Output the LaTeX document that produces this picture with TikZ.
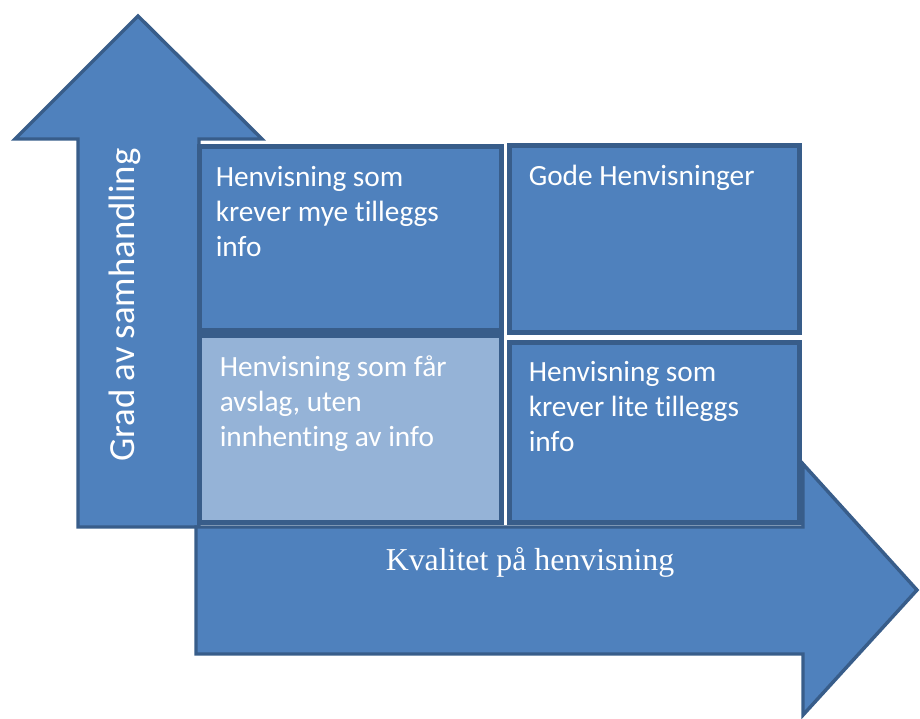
\documentclass[tikz,border=0pt]{standalone}
\usepackage{fontspec}
\setmainfont{Carlito}[Ligatures={CommonOff}]
\newfontfamily\timesfont{Liberation Serif}
\usetikzlibrary{fit}
\definecolor{quadfill}{HTML}{4F81BD}
\definecolor{quadline}{HTML}{385D8A}
\definecolor{quadlight}{HTML}{95B3D7}
\begin{document}
\begin{tikzpicture}[x=0.75pt,y=-0.75pt,quad/.style={rectangle, draw=quadline, fill=quadfill, line width=3.75pt, inner sep=0pt},quad_light/.style={quad, fill=quadlight},quad_txt/.style={text=white, align=left, inner sep=0pt, anchor=north west, font=\fontsize{22}{26.25}\selectfont},axis_arr/.style={draw=quadline, fill=quadfill, line width=2.6pt, line join=miter},]
            \useasboundingbox (0,0) rectangle (920,718);
            % the two axis arrows
            \draw[axis_arr] (78,527) -- (78,139) -- (15,139) -- (138,16) -- (262,139) -- (199,139) -- (199,527) -- cycle;
            \draw[axis_arr] (196,527) -- (803,527) -- (803,464) -- (917,590) -- (803,715) -- (803,654) -- (196,654) -- cycle;
            \node[text=white, rotate=90, font=\fontsize{27.6}{33}\selectfont] (yaxis) at (125,305) {Grad av samhandling};
            \node[text=white, font=\timesfont\fontsize{23.9}{28}\selectfont] (xaxis) at (530,562) {Kvalitet på henvisning};
            % the four quadrants
            \node[quad, fit={(199.5,146.5) (501.5,330.5)}] (tl) {};
            \node[quad_light, fit={(199.5,335.5) (501.5,522)}] (bl) {};
            \node[quad, fit={(509.5,145.5) (799.5,332.5)}] (tr) {};
            \node[quad, fit={(509.5,342.5) (799.5,522)}] (br) {};
            \node[quad_txt] (tl_txt) at ([shift={(18.5,22.5)}]tl.north west) {Henvisning som\\krever mye tilleggs\\info};
            \node[quad_txt] (bl_txt) at ([shift={(22.5,22.5)}]bl.north west) {Henvisning som får\\avslag, uten\\innhenting av info};
            \node[quad_txt] (tr_txt) at ([shift={(21.5,21.5)}]tr.north west) {Gode Henvisninger};
            \node[quad_txt] (br_txt) at ([shift={(21.5,21.5)}]br.north west) {Henvisning som\\krever lite tilleggs\\info};
        \end{tikzpicture}
\end{document}
